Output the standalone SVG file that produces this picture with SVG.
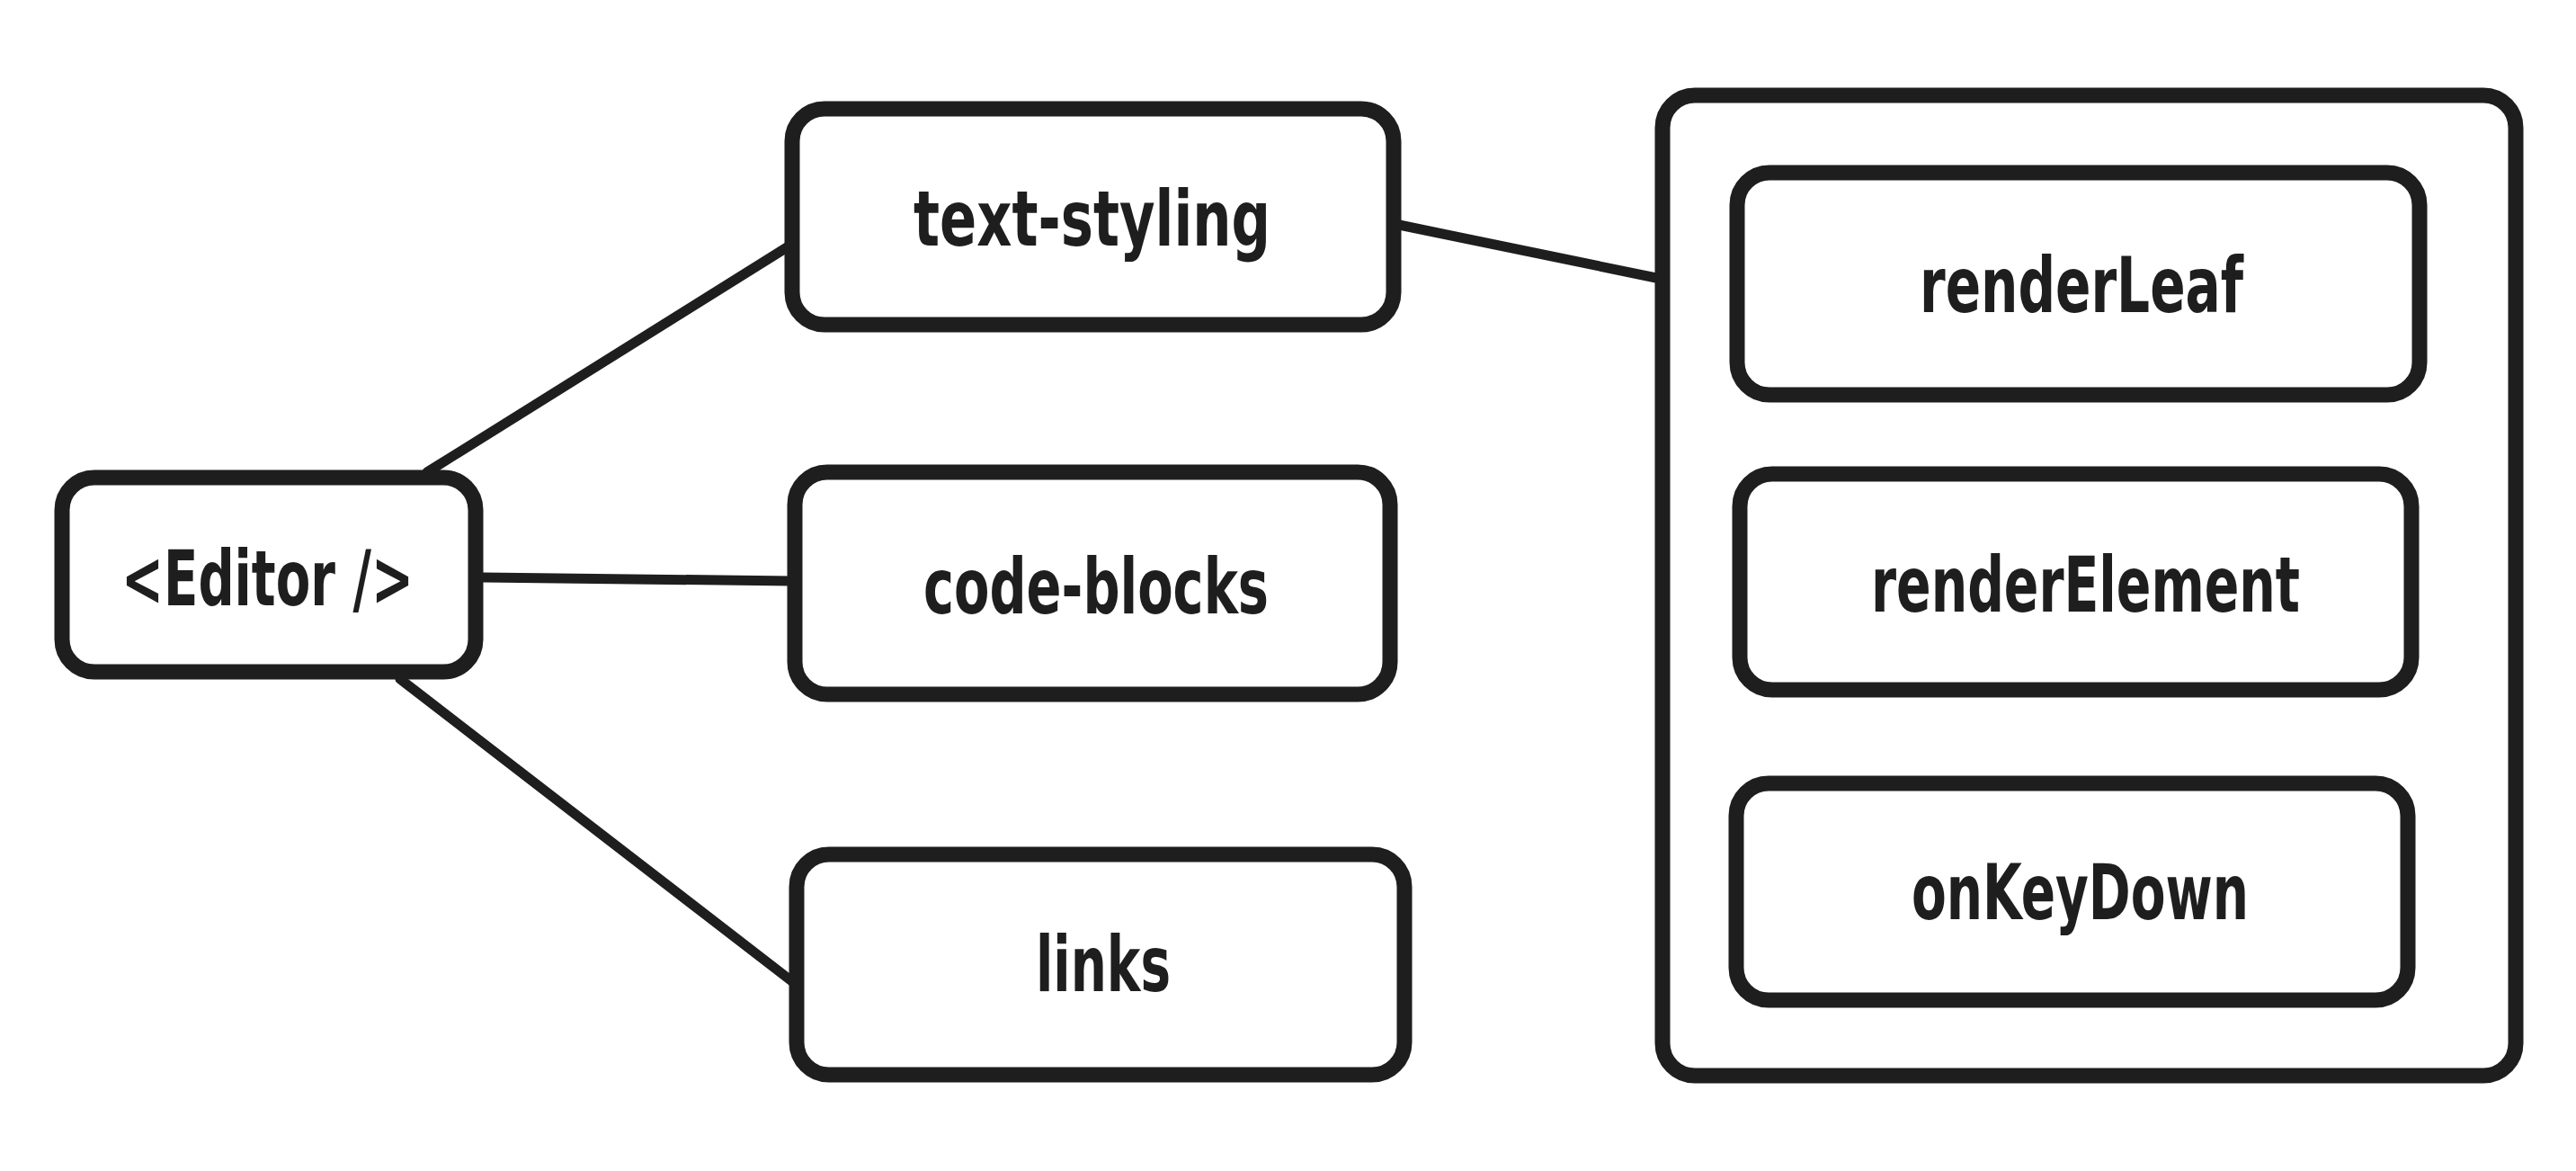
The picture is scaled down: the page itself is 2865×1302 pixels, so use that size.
<svg xmlns="http://www.w3.org/2000/svg" width="2865" height="1302" viewBox="0 0 2865 1302">
<style>
.box{fill:#ffffff;stroke:#1e1e1e;stroke-width:17;stroke-linejoin:round}
.edge{stroke:#1e1e1e;stroke-width:11;stroke-linecap:round;fill:none}
.lbl{font-family:"DejaVu Sans Condensed","DejaVu Sans","Liberation Sans",sans-serif;font-weight:bold;font-size:86px;fill:#1e1e1e}
</style>
<rect width="2865" height="1302" fill="#ffffff"/>
<g id="connectors">
<line class="edge" x1="475" y1="525" x2="880" y2="272"/>
<line class="edge" x1="537" y1="642" x2="880" y2="646"/>
<line class="edge" x1="445" y1="755" x2="882" y2="1092"/>
<line class="edge" x1="1556" y1="250" x2="1842" y2="309"/>
</g>
<g id="editor">
<rect class="box" x="69" y="531" width="460" height="216" rx="36"/>
<text class="lbl" x="135" y="673" textLength="325" lengthAdjust="spacingAndGlyphs">&lt;Editor /&gt;</text>
</g>
<g id="text-styling">
<rect class="box" x="881" y="121" width="669" height="240" rx="36"/>
<text class="lbl" x="1016" y="273" textLength="397" lengthAdjust="spacingAndGlyphs">text-styling</text>
</g>
<g id="code-blocks">
<rect class="box" x="884" y="525" width="662" height="247" rx="36"/>
<text class="lbl" x="1027" y="682" textLength="384" lengthAdjust="spacingAndGlyphs">code-blocks</text>
</g>
<g id="links">
<rect class="box" x="886" y="950" width="676" height="245" rx="36"/>
<text class="lbl" x="1152" y="1102" textLength="150" lengthAdjust="spacingAndGlyphs">links</text>
</g>
<g id="container">
<rect class="box" x="1849" y="106" width="949" height="1090" rx="36"/>
</g>
<g id="renderLeaf">
<rect class="box" x="1932" y="192" width="759" height="247" rx="36"/>
<text class="lbl" x="2135" y="347" textLength="360" lengthAdjust="spacingAndGlyphs">renderLeaf</text>
</g>
<g id="renderElement">
<rect class="box" x="1935" y="527" width="747" height="240" rx="36"/>
<text class="lbl" x="2081" y="680" textLength="477" lengthAdjust="spacingAndGlyphs">renderElement</text>
</g>
<g id="onKeyDown">
<rect class="box" x="1931" y="871" width="747" height="241" rx="36"/>
<text class="lbl" x="2126" y="1022" textLength="375" lengthAdjust="spacingAndGlyphs">onKeyDown</text>
</g>
</svg>
